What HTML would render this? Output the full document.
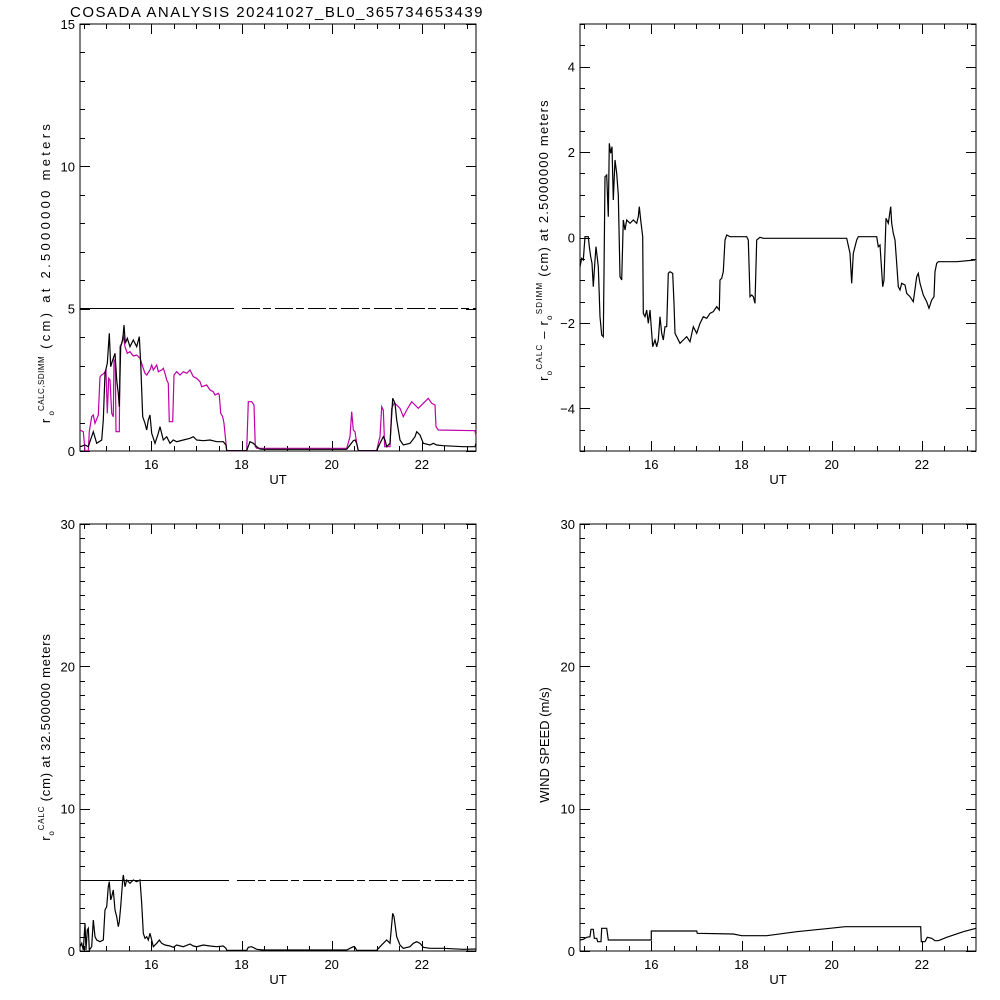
<!DOCTYPE html>
<html><head><meta charset="utf-8"><style>
body{margin:0;background:#fff;width:1000px;height:1000px;overflow:hidden}
svg{display:block}
text{font-family:"Liberation Sans",sans-serif;fill:#000}
</style></head><body>
<svg id="s" width="1000" height="1000" xmlns="http://www.w3.org/2000/svg">
<text x="70" y="17" font-size="15" letter-spacing="1.5">COSADA ANALYSIS 20241027_BL0_365734653439</text>
<text transform="translate(50,272) rotate(-90)" font-size="13" letter-spacing="3.3" text-anchor="middle">r<tspan font-size="8" dy="4" letter-spacing="0">o</tspan><tspan font-size="8" dy="-10" letter-spacing="0.5">CALC,SDIMM</tspan><tspan dy="6"> (cm)  at  2.5000000 meters</tspan></text>
<text transform="translate(548,240) rotate(-90)" font-size="13" letter-spacing="1.2" text-anchor="middle">r<tspan font-size="8" dy="4">o</tspan><tspan font-size="8" dy="-10">CALC</tspan><tspan dy="6">  –  r</tspan><tspan font-size="8" dy="4">o</tspan><tspan font-size="8" dy="-10">SDIMM</tspan><tspan dy="6"> (cm) at 2.5000000 meters</tspan></text>
<text transform="translate(50,737) rotate(-90)" font-size="13" letter-spacing="0.8" text-anchor="middle">r<tspan font-size="8" dy="4">o</tspan><tspan font-size="8" dy="-10">CALC</tspan><tspan dy="6"> (cm) at 32.500000 meters</tspan></text>
<text transform="translate(549,745) rotate(-90)" font-size="13" text-anchor="middle">WIND SPEED (m/s)</text>
</svg>
<script>
const S=document.getElementById('s'),NS='http://www.w3.org/2000/svg';
function el(n,a,t){const e=document.createElementNS(NS,n);for(const k in a)e.setAttribute(k,a[k]);if(t!=null)e.textContent=t;S.appendChild(e);return e;}
const xs=(h)=>151.3+(h-16)*45.1;
function frame(L,T,R,B,ymin,ymax,major,minor,labels){
 el('rect',{x:L,y:T,width:R-L,height:B-T,fill:'none',stroke:'#000','stroke-width':1});
 const yp=v=>B-(v-ymin)/(ymax-ymin)*(B-T);
 for(let v=ymin;v<=ymax+1e-9;v+=minor){const y=Math.round(yp(v))+0.5;const M=Math.abs(v/major-Math.round(v/major))<1e-6;const l=M?10:5;
  el('line',{x1:L,y1:y,x2:L+l,y2:y,stroke:'#000'});el('line',{x1:R,y1:y,x2:R-l,y2:y,stroke:'#000'});}
 labels.forEach(v=>el('text',{x:L-5,y:yp(v)+5,'font-size':13,'text-anchor':'end'},String(v).replace('-','−')));
 for(let h=14.5;h<=23.2;h+=0.5){const x=Math.round(L-80+xs(h))+0.5;if(x<=L||x>=R)continue;const M=Math.abs(h-Math.round(h/2)*2)<1e-6;const l=M?10:5;
  el('line',{x1:x,y1:B,x2:x,y2:B-l,stroke:'#000'});el('line',{x1:x,y1:T,x2:x,y2:T+l,stroke:'#000'});}
 [16,18,20,22].forEach(h=>el('text',{x:L-80+xs(h),y:B+18,'font-size':13,'text-anchor':'middle'},h));
 el('text',{x:(L+R)/2,y:B+33,'font-size':13,'text-anchor':'middle'},'UT');
}
frame(80,24,476,451,0,15,5,1,[15,10,5,0]);
frame(580,24,976,451,-5,5,2,0.5,[4,2,0,-2,-4]);
frame(80,524,476,951,0,30,10,1,[30,20,10,0]);
frame(580,524,976,951,0,30,10,1,[30,20,10,0]);
function poly(arr,ox,oy,col){const pts=[];for(let i=0;i<arr.length;i+=2)pts.push((arr[i]/3+ox).toFixed(1)+','+(arr[i+1]/3+oy).toFixed(1));
 el('polyline',{points:pts.join(' '),fill:'none',stroke:col,'stroke-width':1.2});}
poly([150,450,160,455,165,512,175,512,178,455,185,410,190,405,195,430,205,405,210,290,215,285,222,280,228,270,232,400,236,295,240,300,245,400,250,410,252,240,256,245,258,455,268,455,270,200,275,190,280,165,285,200,292,220,300,215,310,228,320,225,330,235,338,260,345,280,350,285,360,270,365,255,370,270,380,255,385,275,395,270,400,265,405,280,410,300,415,310,418,425,428,425,432,285,440,275,450,285,460,275,470,280,480,270,490,290,500,295,510,305,515,320,530,315,540,330,550,335,555,345,565,340,568,345,572,400,578,410,582,430,590,512,650,512,655,365,665,365,672,375,676,500,680,505,950,505,960,470,965,395,970,450,975,455,980,490,985,512,1040,512,1045,490,1050,470,1055,380,1060,390,1064,500,1080,500,1085,385,1092,370,1100,375,1110,385,1120,410,1130,390,1145,365,1155,375,1165,385,1180,370,1195,355,1205,370,1215,375,1218,440,1225,450,1335,452,1338,470],30,280,'#c000a8');
poly([150,500,165,495,175,500,190,455,200,490,215,480,220,420,225,280,232,250,238,160,242,260,248,240,255,220,260,300,265,340,268,380,272,200,278,180,282,135,286,190,292,175,300,200,310,180,320,200,328,170,332,250,338,410,345,430,350,450,355,420,360,405,365,460,375,490,385,460,390,440,400,480,410,470,420,490,430,480,440,485,460,480,480,475,490,470,500,480,520,482,540,480,560,485,580,485,588,495,590,512,650,512,660,485,670,490,680,500,690,507,700,508,950,508,960,495,970,482,975,480,980,490,985,512,1040,512,1050,490,1060,470,1065,480,1070,500,1080,490,1088,355,1095,370,1100,420,1110,480,1120,495,1140,490,1155,470,1160,455,1170,465,1180,490,1200,495,1210,490,1220,495,1240,497,1300,500,1335,500,1338,490],30,280,'#000');
el('line',{x1:80,y1:308.5,x2:234,y2:308.5,stroke:'#000'});
el('line',{x1:242,y1:308.5,x2:476,y2:308.5,stroke:'#000','stroke-dasharray':'18,3,8,4'});
el('line',{x1:80,y1:880.5,x2:229,y2:880.5,stroke:'#000'});
el('line',{x1:237,y1:880.5,x2:476,y2:880.5,stroke:'#000','stroke-dasharray':'18,3,8,4'});
poly([150,440,155,415,160,420,165,350,175,350,178,380,182,410,186,430,190,500,195,420,198,380,205,440,210,590,215,645,220,650,222,460,225,170,230,165,235,290,238,70,242,100,246,80,250,240,255,120,260,160,265,225,270,470,275,480,280,300,285,330,290,300,300,310,310,300,320,310,325,290,328,260,332,300,338,350,340,580,345,590,350,570,355,610,360,570,368,680,375,660,380,680,385,660,390,590,395,640,400,660,405,620,410,620,415,460,420,455,428,460,432,550,435,640,440,650,450,670,460,660,470,650,480,665,490,620,500,640,510,610,520,590,530,595,540,580,550,575,560,560,568,570,570,480,575,475,580,455,585,360,590,345,600,350,650,350,655,360,660,530,665,525,670,530,675,550,680,360,690,352,700,355,950,355,960,400,965,490,970,400,980,360,985,350,1040,350,1045,380,1050,375,1058,500,1062,480,1068,295,1075,310,1082,260,1085,310,1090,340,1095,360,1100,430,1105,500,1110,510,1115,490,1125,495,1130,520,1140,530,1150,545,1160,470,1165,460,1170,490,1180,525,1190,545,1197,565,1205,540,1212,530,1215,455,1220,430,1225,425,1280,425,1335,420],530,120,'#000');
poly([150,320,155,310,160,330,165,250,168,330,172,270,175,265,178,330,185,320,190,240,195,290,200,300,210,305,220,300,225,210,230,200,235,140,238,125,242,180,245,170,250,150,255,210,260,230,265,260,268,245,272,200,278,120,280,105,285,140,290,120,300,130,310,120,320,125,330,120,335,190,340,280,345,295,350,290,355,300,360,280,365,300,370,320,380,310,388,300,395,310,405,315,420,318,430,322,440,315,460,320,480,312,490,318,500,320,520,315,540,318,560,320,580,318,588,325,590,331,650,331,655,322,665,320,680,328,700,330,950,330,960,325,970,320,975,322,980,331,1040,331,1050,320,1060,310,1070,300,1080,310,1088,220,1092,230,1100,290,1110,315,1120,325,1140,320,1150,310,1160,305,1170,310,1180,322,1200,325,1240,325,1300,328,1338,327],30,840,'#000');
poly([150,300,160,298,170,292,180,290,183,268,190,268,193,295,200,295,203,305,213,305,215,265,230,265,235,300,364,300,364,273,500,273,502,280,610,282,635,287,710,287,800,275,900,265,945,260,1172,260,1174,305,1185,305,1192,292,1205,295,1215,302,1225,302,1250,292,1300,275,1338,265],530,840,'#000');
</script>
</body></html>
